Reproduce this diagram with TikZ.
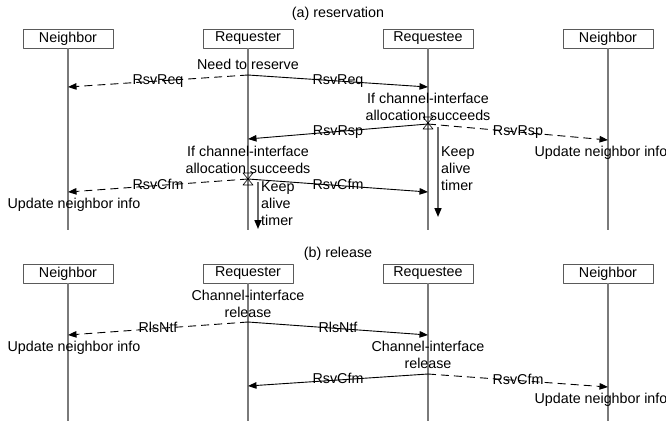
\documentclass[tikz,border=0pt]{standalone}
\usepackage{fontspec}
\setmainfont{Liberation Sans}
\usetikzlibrary{arrows.meta}
\definecolor{Lline}{HTML}{7A7A7A}
\definecolor{Bline}{HTML}{5A5A5A}
\definecolor{Kline}{HTML}{6A6A6A}

\begin{document}
\begin{tikzpicture}[x=1pt,y=-1pt,line join=round,
  every node/.style={font=\fontsize{14.3}{17}\selectfont},
  party/.style={draw=Bline,line width=0.9pt,minimum width=90pt,minimum height=19pt,inner sep=0pt},
  life/.style={draw=Lline,line width=1.1pt},
  smsg/.style={line width=0.9pt,-{Triangle[length=8.5pt,width=6.5pt]}},
  dmsg/.style={smsg,dash pattern=on 8pt off 5pt},
  tag/.style={anchor=mid,inner sep=0pt,yshift=-1pt},
  note/.style={align=center,inner sep=0pt},
  keep/.style={align=left,anchor=north west,inner sep=0pt},
  timer/.style={draw=Kline,line width=1.6pt,-{Triangle[length=9pt,width=7pt,black]}},
  glass/.style={draw=black,line width=0.6pt}]
\useasboundingbox (0,0) rectangle (666,421);
\def\ya{38.5}   % boxes of (a)
\def\yb{273.5}  % boxes of (b)

% ---- (a) reservation ----
\node (capA) at (338,14) {(a) reservation};
\foreach \n/\x/\t in {nbA/68/Neighbor, rqA/248/Requester, reA/428/Requestee, mbA/608/Neighbor}{
  \node[party] (\n) at (\x,\ya) {\t};
  \coordinate (\n end) at (\x,230);
  \draw[life] (\n) -- (\n end);}

% request
\node[note] (need) at (248,64) {Need to reserve};
\coordinate (q1) at (248,75);
\coordinate (q1l) at (68,87);
\coordinate (q1r) at (428,87);
\draw[dmsg] (q1) -- node[tag] (rqL) {RsvReq} (q1l);
\draw[smsg] (q1) -- node[tag] (rqR) {RsvReq} (q1r);

% response, timer at the requestee
\node[note] (okE) at (428,106.5) {If channel-interface\\allocation succeeds};
\coordinate (q2) at (428,124);
\coordinate (q2l) at (248,139);
\coordinate (q2r) at (608,140);
\draw[smsg] (q2) -- node[tag] (rpL) {RsvRsp} (q2l);
\draw[dmsg] (q2) -- node[tag] (rpR) {RsvRsp} (q2r);
\node (updR) at (601,153) {Update neighbor info};
\coordinate (k1a) at (438,127);
\coordinate (k1b) at (438,217);
\draw[timer] (k1a) -- (k1b);
\node[keep] (keepE) at (441,146) {Keep\\alive\\timer};

% confirm, timer at the requester
\node[note] (okQ) at (248,160) {If channel-interface\\allocation succeeds};
\coordinate (q3) at (248,179);
\coordinate (q3l) at (68,192);
\coordinate (q3r) at (428,192);
\draw[dmsg] (q3) -- node[tag] (cfL) {RsvCfm} (q3l);
\draw[smsg] (q3) -- node[tag] (cfR) {RsvCfm} (q3r);
\node (updL) at (74,205) {Update neighbor info};
\coordinate (k2a) at (258,182);
\coordinate (k2b) at (258,229);
\draw[timer] (k2a) -- (k2b);
\node[keep] (keepQ) at (261,181) {Keep\\alive\\timer};

% hourglasses
\foreach \x/\y in {428/123, 248/179}
  \draw[glass] (\x-5,\y-6) -- (\x+5,\y-6) -- (\x-5,\y+6) -- (\x+5,\y+6) -- cycle;

% ---- (b) release ----
\node (capB) at (338,254) {(b) release};
\foreach \n/\x/\t in {nbB/68/Neighbor, rqB/248/Requester, reB/428/Requestee, mbB/608/Neighbor}{
  \node[party] (\n) at (\x,\yb) {\t};
  \coordinate (\n end) at (\x,421);
  \draw[life] (\n) -- (\n end);}

% release notification
\node[note] (relQ) at (248,303.5) {Channel-interface\\release};
\coordinate (p1) at (248,322);
\coordinate (p1l) at (68,335);
\coordinate (p1r) at (428,335);
\draw[dmsg] (p1) -- node[tag] (ntL) {RlsNtf} (p1l);
\draw[smsg] (p1) -- node[tag] (ntR) {RlsNtf} (p1r);
\node (updBL) at (74,348) {Update neighbor info};

% release confirm
\node[note] (relE) at (428,354.5) {Channel-interface\\release};
\coordinate (p2) at (428,374);
\coordinate (p2l) at (248,386);
\coordinate (p2r) at (608,387);
\draw[smsg] (p2) -- node[tag] (bcL) {RsvCfm} (p2l);
\draw[dmsg] (p2) -- node[tag] (bcR) {RsvCfm} (p2r);
\node (updBR) at (601,400) {Update neighbor info};
\end{tikzpicture}
\end{document}
